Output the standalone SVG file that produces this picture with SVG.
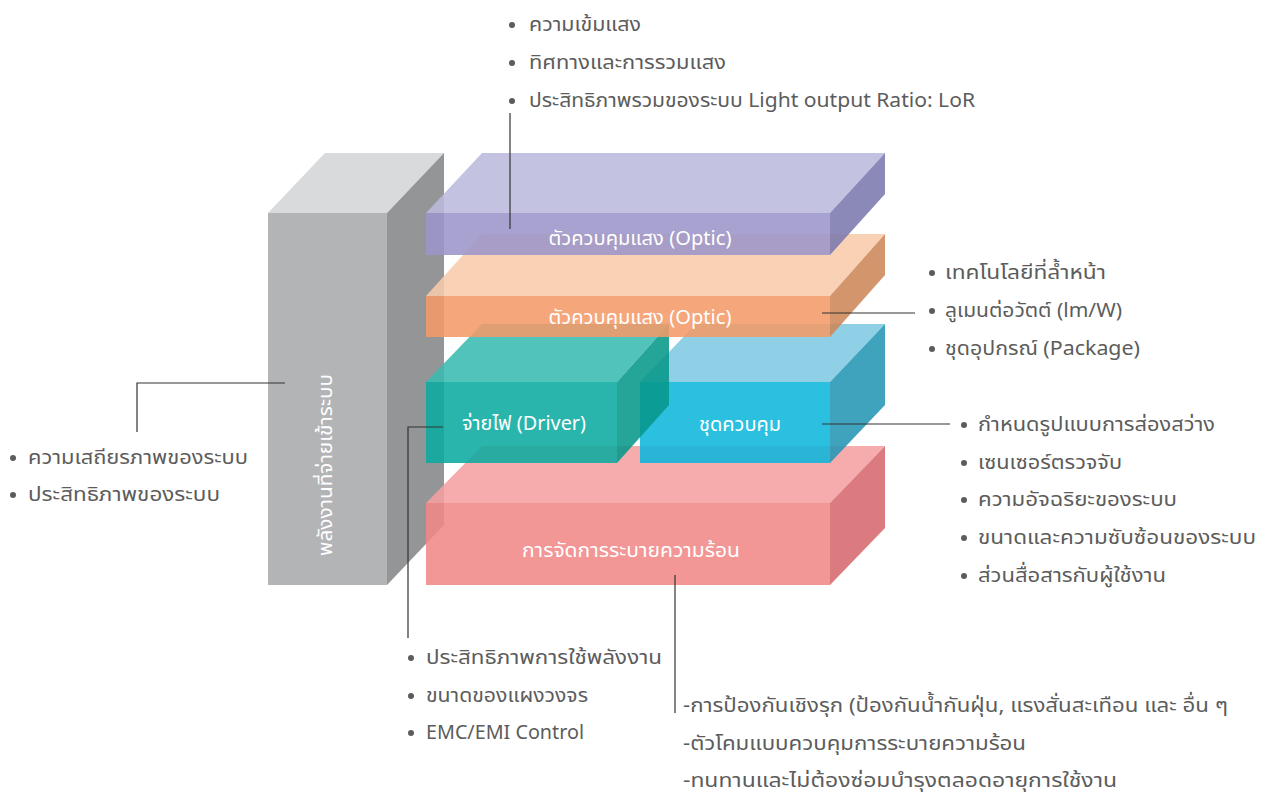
<svg xmlns="http://www.w3.org/2000/svg" width="1265" height="796" viewBox="0 0 1265 796">
  <style>
    text { font-family: "Noto Sans Thai", "Noto Sans", "Liberation Sans", sans-serif; }
    .lbl { fill: #ffffff; font-size: 19px; text-anchor: middle; }
    .note { fill: #5c5c5c; font-size: 20px; }
    .dot { fill: #5c5c5c; }
    .wire { fill: none; stroke: #333333; stroke-width: 1.2; }
    .face { fill-opacity: 0.88; }
  </style>
  <rect width="1265" height="796" fill="#ffffff"/>

  <!-- power column -->
  <g id="power-column">
    <polygon points="268,213 387,213 444,153 325,153" fill="#d9dadb"/>
    <polygon points="387,213 444,153 444,525 387,585" fill="#949596"/>
    <rect x="268" y="213" width="119" height="372" fill="#b3b4b6"/>
    <text class="lbl" transform="translate(332,465) rotate(-90)" font-size="20" textLength="182" lengthAdjust="spacingAndGlyphs">พลังงานที่จ่ายเข้าระบบ</text>
  </g>

  <!-- heat management block -->
  <g id="heat-block">
    <polygon class="face" points="426,503 830,503 885,446 482,446" fill="#f59fa0"/>
    <polygon class="face" points="830,503 885,446 885,528 830,585" fill="#d6696d"/>
    <rect class="face" x="426" y="503" width="404" height="82" fill="#f08788"/>
    <text class="lbl" x="631" y="557" textLength="218" lengthAdjust="spacingAndGlyphs">การจัดการระบายความร้อน</text>
  </g>

  <!-- control unit block -->
  <g id="control-block">
    <polygon class="face" points="640,382 830,382 885,324 696,324" fill="#7fc9e2"/>
    <polygon class="face" points="830,382 885,324 885,405 830,463" fill="#2496b5"/>
    <rect class="face" x="640" y="382" width="190" height="81" fill="#0eb6dc"/>
    <text class="lbl" x="740" y="431" textLength="82" lengthAdjust="spacingAndGlyphs">ชุดควบคุม</text>
  </g>

  <!-- driver block -->
  <g id="driver-block">
    <polygon class="face" points="426,382 617,382 669,324 482,324" fill="#3abbb2"/>
    <polygon class="face" points="617,382 669,324 669,405 617,463" fill="#07978a"/>
    <rect class="face" x="426" y="382" width="191" height="81" fill="#0caba0"/>
    <text class="lbl" x="524" y="430" textLength="124" lengthAdjust="spacingAndGlyphs">จ่ายไฟ (Driver)</text>
  </g>

  <!-- LED / optic lower block -->
  <g id="optic-lower">
    <polygon class="face" points="426,296 830,296 885,234 482,234" fill="#f8ccab"/>
    <polygon class="face" points="830,296 885,234 885,275 830,337" fill="#cd8657"/>
    <rect class="face" x="426" y="296" width="404" height="41" fill="#f49a68"/>
    <text class="lbl" x="640" y="324" textLength="183" lengthAdjust="spacingAndGlyphs">ตัวควบคุมแสง (Optic)</text>
  </g>

  <!-- optic upper block -->
  <g id="optic-upper">
    <polygon class="face" points="426,213 830,213 885,153 482,153" fill="#bcbadd"/>
    <polygon class="face" points="830,213 885,153 885,194 830,255" fill="#7a79ae"/>
    <rect class="face" x="426" y="213" width="404" height="42" fill="#9b95c8"/>
    <text class="lbl" x="640" y="245" textLength="183" lengthAdjust="spacingAndGlyphs">ตัวควบคุมแสง (Optic)</text>
  </g>

  <!-- leader lines -->
  <g id="connectors">
    <polyline class="wire" points="510,113 510,229"/>
    <polyline class="wire" points="822,313 915,313"/>
    <polyline class="wire" points="822,424 950,424"/>
    <polyline class="wire" points="285,383 137,383 137,432"/>
    <polyline class="wire" points="443,427 408,427 408,638"/>
    <polyline class="wire" points="675,575 675,713"/>
  </g>

  <!-- notes: optics -->
  <g id="notes-optic">
    <circle class="dot" cx="512" cy="25" r="3"/>
    <circle class="dot" cx="512" cy="63" r="3"/>
    <circle class="dot" cx="512" cy="101" r="3"/>
    <text class="note" x="529" y="31" textLength="112" lengthAdjust="spacingAndGlyphs">ความเข้มแสง</text>
    <text class="note" x="529" y="69" textLength="197" lengthAdjust="spacingAndGlyphs">ทิศทางและการรวมแสง</text>
    <text class="note" x="529" y="107" textLength="446" lengthAdjust="spacingAndGlyphs">ประสิทธิภาพรวมของระบบ Light output Ratio: LoR</text>
  </g>

  <!-- notes: LED -->
  <g id="notes-led">
    <circle class="dot" cx="932" cy="273" r="3"/>
    <circle class="dot" cx="932" cy="311" r="3"/>
    <circle class="dot" cx="932" cy="349" r="3"/>
    <text class="note" x="945" y="279" textLength="161" lengthAdjust="spacingAndGlyphs">เทคโนโลยีที่ล้ำหน้า</text>
    <text class="note" x="945" y="317" textLength="177" lengthAdjust="spacingAndGlyphs">ลูเมนต่อวัตต์ (lm/W)</text>
    <text class="note" x="945" y="355" textLength="195" lengthAdjust="spacingAndGlyphs">ชุดอุปกรณ์ (Package)</text>
  </g>

  <!-- notes: control unit -->
  <g id="notes-control">
    <circle class="dot" cx="964" cy="425" r="3"/>
    <circle class="dot" cx="964" cy="463" r="3"/>
    <circle class="dot" cx="964" cy="500" r="3"/>
    <circle class="dot" cx="964" cy="538" r="3"/>
    <circle class="dot" cx="964" cy="576" r="3"/>
    <text class="note" x="978" y="431" textLength="237" lengthAdjust="spacingAndGlyphs">กำหนดรูปแบบการส่องสว่าง</text>
    <text class="note" x="978" y="469" textLength="144" lengthAdjust="spacingAndGlyphs">เซนเซอร์ตรวจจับ</text>
    <text class="note" x="978" y="506" textLength="199" lengthAdjust="spacingAndGlyphs">ความอัจฉริยะของระบบ</text>
    <text class="note" x="978" y="544" textLength="278" lengthAdjust="spacingAndGlyphs">ขนาดและความซับซ้อนของระบบ</text>
    <text class="note" x="978" y="582" textLength="188" lengthAdjust="spacingAndGlyphs">ส่วนสื่อสารกับผู้ใช้งาน</text>
  </g>

  <!-- notes: power -->
  <g id="notes-power">
    <circle class="dot" cx="13" cy="458" r="3"/>
    <circle class="dot" cx="13" cy="495" r="3"/>
    <text class="note" x="28" y="464" textLength="220" lengthAdjust="spacingAndGlyphs">ความเสถียรภาพของระบบ</text>
    <text class="note" x="28" y="501" textLength="192" lengthAdjust="spacingAndGlyphs">ประสิทธิภาพของระบบ</text>
  </g>

  <!-- notes: driver -->
  <g id="notes-driver">
    <circle class="dot" cx="411" cy="658" r="3"/>
    <circle class="dot" cx="411" cy="696" r="3"/>
    <circle class="dot" cx="411" cy="733" r="3"/>
    <text class="note" x="426" y="664" textLength="236" lengthAdjust="spacingAndGlyphs">ประสิทธิภาพการใช้พลังงาน</text>
    <text class="note" x="426" y="702" textLength="162" lengthAdjust="spacingAndGlyphs">ขนาดของแผงวงจร</text>
    <text class="note" x="426" y="739" textLength="158" lengthAdjust="spacingAndGlyphs">EMC/EMI Control</text>
  </g>

  <!-- notes: heat management -->
  <g id="notes-heat">
    <text class="note" x="683" y="712" textLength="545" lengthAdjust="spacingAndGlyphs">-การป้องกันเชิงรุก (ป้องกันน้ำกันฝุ่น, แรงสั่นสะเทือน และ อื่น ๆ</text>
    <text class="note" x="683" y="750" textLength="343" lengthAdjust="spacingAndGlyphs">-ตัวโคมแบบควบคุมการระบายความร้อน</text>
    <text class="note" x="683" y="787" textLength="434" lengthAdjust="spacingAndGlyphs">-ทนทานและไม่ต้องซ่อมบำรุงตลอดอายุการใช้งาน</text>
  </g>
</svg>
